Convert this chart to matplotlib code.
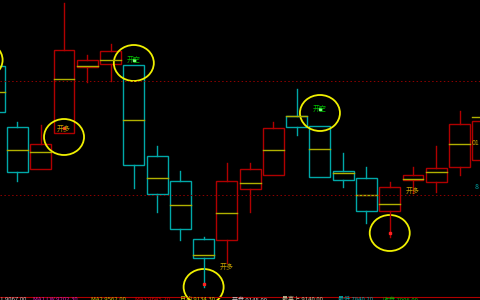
import matplotlib
matplotlib.use("Agg")
import matplotlib.pyplot as plt
from matplotlib.patches import Rectangle, Ellipse
from matplotlib.lines import Line2D

plt.rcParams['font.family'] = ['Noto Sans CJK SC', 'DejaVu Sans']

# K线数据 (开, 高, 低, 收, 均价线)
opens  = [9570, 9265, 9055, 9235, 9565, 9580, 9575, 9120, 8995, 8705, 8700, 8955,
          9025, 9320, 9270, 9045, 9010, 8845, 9000, 8990, 9065, 9100]
highs  = [9590, 9290, 9275, 9885, 9625, 9680, 9575, 9170, 9045, 8715, 9085, 9085,
          9290, 9455, 9270, 9135, 9065, 8990, 9065, 9170, 9345, 9330]
lows   = [9330, 8995, 9055, 9235, 9490, 9495, 8960, 8840, 8700, 8465, 8585, 8840,
          9025, 9225, 9015, 8965, 8785, 8715, 8935, 8940, 9025, 9080]
closes = [9340, 9040, 9180, 9650, 9600, 9645, 9075, 8930, 8755, 8610, 8995, 9055,
          9260, 9265, 9015, 9000, 8845, 8965, 9025, 9060, 9280, 9295]
mids   = [9440, 9150, 9140, 9505, 9570, 9600, 9300, 9010, 8875, 8625, 8835, 8985,
          9150, 9320, 9155, 9035, 8925, 8880, 9005, 9040, 9180, 9315]

# 信号
sig_x     = [-0.5, 3, 6, 9, 14, 17]
sig_y     = [9600, 9215, 9585, 8465, 9335, 8735]
sig_text  = ['', '开多', '开空', '', '开空', '']
sig_txt_y = [0, 9255, 9600, 0, 9355, 0]
sig_dot_y = [None, 9260, 9600, 8480, 9355, 8735]
sig_color = ['', '#c8a000', '#00c000', '', '#00c000', '']
dot_color = ['', '#ff2020', '#80ff80', '#ff2020', '#80ff80', '#ff2020']

plain_x = [10, 18]
plain_y = [8565, 8945]

levels = [9495, 8925]

# 右侧价格标签
right_text = ['01', '8']
right_y = [9185, 8965]
right_color = ['#c8a000', '#00a8a8']

info_x = [0, 33, 91, 135, 180, 232, 282, 338, 383]
info_text = ['L.9067.00', 'MA1 LW 9202.30', 'MA2 9562.00', 'MA3 9645.20', '日均 9134.30',
             '开盘 9145.00', '最高上 9140.00', '最低 7840.20', '收盘 7906.00']
info_color = ['#c8c8c8', '#d020c0', '#c8c800', '#d00000', '#c8c800',
              '#c8c8c8', '#c8c8a0', '#00b0b0', '#00c000']

RED = '#b00000'
CYAN = '#00a8a8'
YEL = '#b0b000'

fig = plt.figure(figsize=(4.8, 3.0), dpi=100, facecolor='black')
ax = fig.add_axes([0, 0, 1, 1])
ax.set_facecolor('black')
ax.set_xlim(0.248, 20.88)
ax.set_ylim(8400, 9900)
ax.axis('off')

w = 0.9
for i in range(len(opens)):
    o, h, l, c, m = opens[i], highs[i], lows[i], closes[i], mids[i]
    col = RED if c >= o else CYAN
    top, bot = max(o, c), min(o, c)
    ax.plot([i, i], [top, h], color=col, lw=1)
    ax.plot([i, i], [l, bot], color=col, lw=1)
    ax.add_patch(Rectangle((i - w / 2, bot), w, top - bot, fill=False,
                           edgecolor=col, lw=1))
    ax.plot([i - w / 2, i + w / 2], [m, m], color=YEL, lw=1)

for lv in levels:
    ax.axhline(lv, color='#900000', lw=0.7, ls=(0, (1.5, 2.5)))

for i in range(len(sig_x)):
    ax.add_patch(Ellipse((sig_x[i], sig_y[i]), 40 / 23.26, 36 * 5, fill=False,
                         edgecolor='#f0f000', lw=1.3))
    if sig_text[i]:
        ax.text(sig_x[i], sig_txt_y[i], sig_text[i], color=sig_color[i], fontsize=5,
                ha='center', va='center')
    if sig_dot_y[i] is not None:
        ax.plot(sig_x[i], sig_dot_y[i], 's', ms=2, color=dot_color[i],
                mec=dot_color[i])

for x, y in zip(plain_x, plain_y):
    ax.text(x, y, '开多', color='#c8a000', fontsize=5, ha='center', va='center')

for t, y, c in zip(right_text, right_y, right_color):
    ax.text(0.998, y, t, color=c, fontsize=5, ha='right', va='center',
            transform=ax.get_yaxis_transform())

fig.add_artist(Line2D([0, 1], [1 - 296.5 / 300] * 2, color='#b00000', lw=0.8,
                      transform=fig.transFigure))
for x, t, c in zip(info_x, info_text, info_color):
    fig.text(x / 480, 1 - 297 / 300, t, color=c, fontsize=4.3, va='top', ha='left')

fig.savefig('out.png', dpi=100, facecolor='black')
